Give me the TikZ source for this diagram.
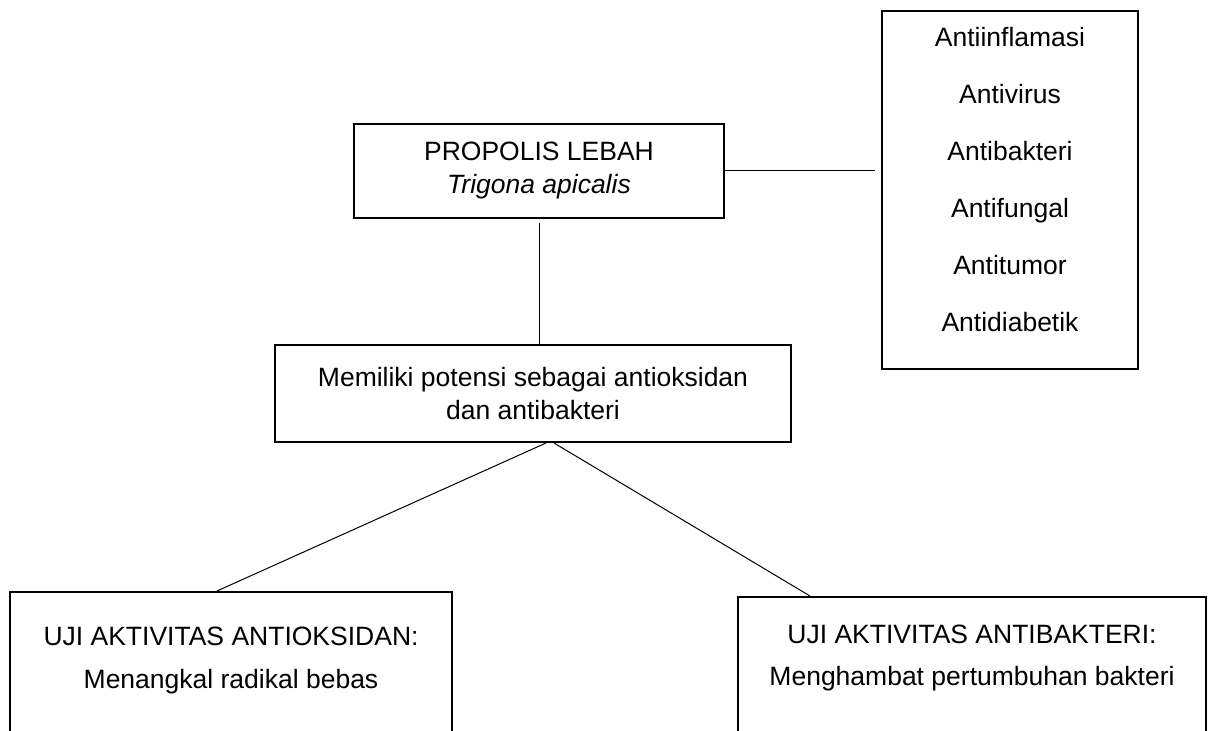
\documentclass[tikz,border=0pt]{standalone}
\usepackage{fontspec}
\setmainfont{Liberation Sans}
\usetikzlibrary{positioning}

\begin{document}
\begin{tikzpicture}[x=.5pt,y=-.5pt,
    every node/.style={font=\fontsize{13.25}{16.5}\selectfont},
    panel/.style={draw,line width=1pt,align=center,inner sep=0pt},
    link/.style={line width=.5pt}]
  \useasboundingbox (0,0) rectangle (1213,731);
  \clip (0,0) rectangle (1213,731);
  % top boxes
  \node[panel,minimum width=185pt,minimum height=47pt] (propolis) at (539,171)
    {PROPOLIS LEBAH\\\textit{Trigona apicalis}};
  \node[panel,minimum width=128pt,minimum height=179pt,anchor=north] (uses) at (1010,10) {};
  \foreach \name [count=\i from 0] in {Antiinflamasi,Antivirus,Antibakteri,Antifungal,Antitumor,Antidiabetik}
    \node[anchor=base] (use\i) at (1010,47+57*\i) {\name};
  \node[panel,minimum width=258pt,minimum height=48.5pt] (potensi) at (533,393.5)
    {Memiliki potensi sebagai antioksidan\\dan antibakteri};
  % bottom boxes, open past the page edge
  \node[panel,minimum width=221pt,minimum height=100pt,anchor=north] (antiox) at (231,591) {};
  \node[anchor=base] (antioxhead) at (231,645) {UJI AKTIVITAS ANTIOKSIDAN:};
  \node[anchor=base] (antioxbody) at (231,688) {Menangkal radikal bebas};
  \node[panel,minimum width=234pt,minimum height=100pt,anchor=north] (antibac) at (972,596) {};
  \node[anchor=base] (antibachead) at (972,643) {UJI AKTIVITAS ANTIBAKTERI:};
  \node[anchor=base] (antibacbody) at (972,685) {Menghambat pertumbuhan bakteri};
  % connectors
  \draw[link,shorten >=3pt] (propolis.east) -- (uses.west |- propolis.east);
  \draw[link,shorten <=2pt] (propolis.south) -- (propolis.south |- potensi.north);
  \draw[link] ([xshift=6.5pt]potensi.south) -- ([xshift=-7pt]antiox.north);
  \draw[link] ([xshift=10.5pt]potensi.south) -- ([xshift=-81pt]antibac.north);
\end{tikzpicture}
\end{document}
